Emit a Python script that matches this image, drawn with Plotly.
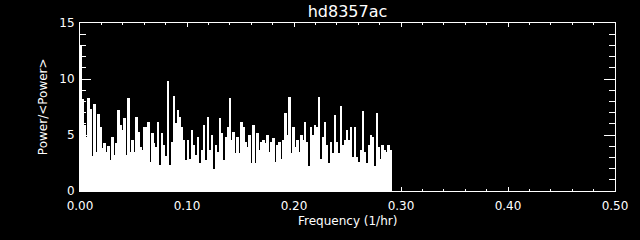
import numpy as np
import plotly.graph_objects as go

title_text = "hd8357ac"
x_title = "Frequency (1/hr)"
y_title = "Power/<Power>"

f_max = 0.2915  # last frequency of the periodogram
power = [
    13.0, 8.2, 5.9, 4.85, 8.3, 7.3, 3.1, 7.8, 3.5, 6.85,
    5.75, 3.8, 4.25, 3.5, 4.05, 2.8, 4.85, 3.2, 4.25, 7.2,
    5.9, 5.45, 6.5, 3.2, 8.3, 3.5, 4.55, 3.5, 6.65, 5.3,
    3.95, 3.65, 5.75, 5.75, 6.2, 2.6, 5.15, 4.25, 3.95, 6.2,
    2.3, 5.15, 4.1, 3.1, 9.8, 2.3, 4.4, 8.5, 6.05, 7.2,
    6.65, 5.75, 4.55,
    2.8, 4.55, 2.9, 5.45, 4.1, 3.2, 4.85, 2.5, 3.65, 5.9,
    2.8, 6.65, 3.65, 5.0, 2.0, 4.1, 3.5, 6.5, 5.15, 2.8,
    4.85, 5.75, 8.3, 4.55, 5.3, 3.35, 4.85, 3.35, 6.2, 5.75,
    4.4, 3.95, 5.0, 2.5, 5.9, 2.5, 5.15, 3.65, 4.4, 4.55,
    4.25, 5.0, 3.5, 4.4, 4.7, 2.6, 4.1, 4.4, 2.9, 4.55,
    6.95, 5.0, 8.4,
    3.35, 5.75, 3.95, 4.55, 3.5, 5.0, 4.55, 6.2, 4.4, 2.2,
    5.75, 5.0, 5.9, 5.75, 8.4, 2.9, 4.85, 6.2, 4.1, 2.5,
    4.4, 3.35, 6.8, 4.4, 3.35, 7.6, 4.1, 4.55, 5.45, 4.55,
    5.75, 3.05, 5.75, 3.05, 2.6, 3.65, 7.1, 3.5, 2.5, 4.1,
    5.0, 4.85, 2.2, 6.95, 3.95, 2.9, 4.1, 3.65, 3.5, 4.1,
    3.65,
]

x_tickvals = [0.0, 0.1, 0.2, 0.3, 0.4, 0.5]
y_tickvals = [0, 5, 10, 15]

n = len(power)
df = f_max / n
freq = (np.arange(n) + 0.5) * df

fig = go.Figure()
fig.add_trace(go.Bar(
    x=freq, y=power, width=df,
    marker=dict(color="white", line=dict(width=0)),
    showlegend=False,
))

font = "DejaVu Sans"
fig.update_layout(
    width=640, height=240,
    margin=dict(l=80, r=23, t=23, b=49),
    paper_bgcolor="black", plot_bgcolor="black",
    bargap=0,
    font=dict(family=font, color="white", size=12),
    title=dict(text=title_text, x=0.5, xref="paper", xanchor="center",
               y=1 - 11 / 240, yref="container", yanchor="middle",
               font=dict(size=16, color="white", family=font)),
    xaxis=dict(range=[0, 0.5], tickvals=x_tickvals, tickformat=".2f",
               showgrid=False, zeroline=False, showline=True, linecolor="white",
               linewidth=1, mirror="ticks", ticks="inside", ticklen=4,
               tickcolor="white", tickwidth=1,
               minor=dict(dtick=0.02, tick0=0, ticks="inside", ticklen=2,
                          tickcolor="white", showgrid=False),
               ticklabelstandoff=4),
    yaxis=dict(range=[0, 15], tickvals=y_tickvals,
               showgrid=False, zeroline=False, showline=True, linecolor="white",
               linewidth=1, mirror="ticks", ticks="inside", ticklen=11,
               tickcolor="white", tickwidth=1,
               minor=dict(dtick=1, tick0=0, ticks="inside", ticklen=6,
                          tickcolor="white", showgrid=False),
               ticklabelstandoff=2),
    annotations=[
        dict(text=x_title, x=0.5, xref="paper", y=1 - 221 / 240, yref="paper",
             showarrow=False, xanchor="center", yanchor="middle",
             font=dict(size=12, color="white", family=font)),
        dict(text=y_title, x=43 / 640, xref="paper", y=0.5, yref="paper",
             showarrow=False, xanchor="center", yanchor="middle", textangle=-90,
             font=dict(size=12, color="white", family=font)),
    ],
)
# annotation y/x in paper coords must be relative to the plot area
ann = list(fig.layout.annotations)
plot_h = 240 - 23 - 49
plot_w = 640 - 80 - 23
ann[0].y = (191 - 221) / plot_h
ann[1].x = (43 - 80) / plot_w
fig.layout.annotations = ann

fig.write_html("out.html")
